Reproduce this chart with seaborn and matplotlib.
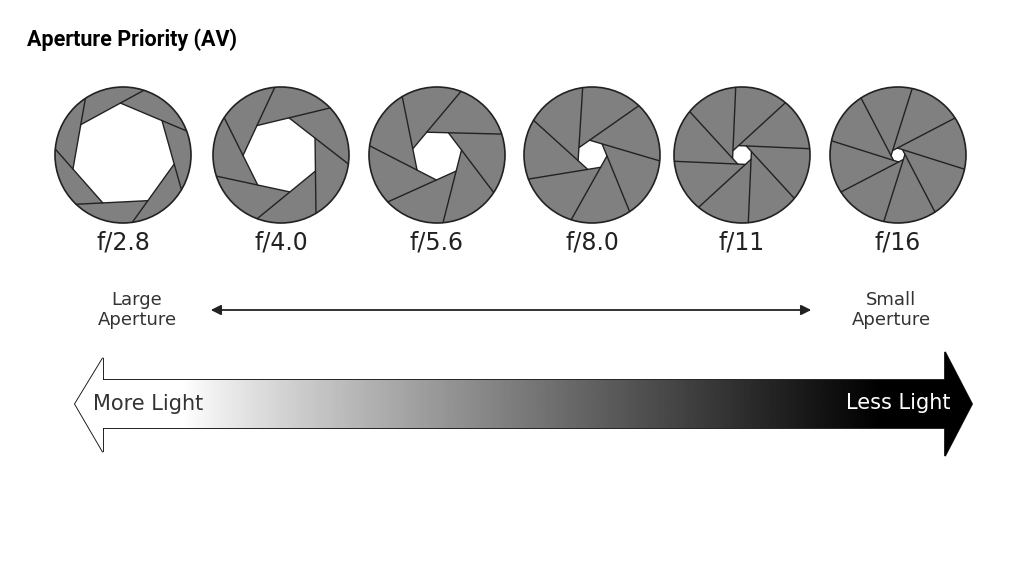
"""aperture priority illustration"""

import numpy as np
import matplotlib.pyplot as plt
import seaborn as sns
from matplotlib.patches import Circle, Polygon, FancyArrowPatch

sns.set_theme(style="white")

stops = ["f/2.8", "f/4.0", "f/5.6", "f/8.0", "f/11", "f/16"]
centers_x = [123, 281, 437, 592, 742, 898]
hole_radius = [52, 38, 25, 15, 10, 7]
blades = [7, 7, 7, 7, 8, 8]
rotation = [10, 25, 40, 55, 70, 85]

R = 68
CY = 155

fig = plt.figure(figsize=(10.24, 5.76), dpi=100)
ax = fig.add_axes([0, 0, 1, 1])
ax.set_xlim(0, 1024)
ax.set_ylim(576, 0)
ax.axis("off")

for cx, hr, n, rot, lab in zip(centers_x, hole_radius, blades, rotation, stops):
    ax.add_patch(Circle((cx, CY), R, facecolor="#808080", edgecolor="#222222", lw=1.2))
    ang = np.deg2rad(rot) + np.arange(n) * 2 * np.pi / n
    verts = np.c_[cx + hr * np.cos(ang), CY + hr * np.sin(ang)]
    ax.add_patch(Polygon(verts, closed=True, facecolor="white", edgecolor="#222222", lw=1))
    for i in range(n):
        a = verts[i]
        b = verts[(i + 1) % n]
        d = (b - a) / np.linalg.norm(b - a)
        p = b - np.array([cx, CY])
        # solve |p + t d| = R
        t = -p @ d + np.sqrt((p @ d) ** 2 - (p @ p - R * R))
        e = b + t * d
        ax.plot([b[0], e[0]], [b[1], e[1]], color="#222222", lw=1)
    ax.text(cx, 242, lab, ha="center", va="center", fontsize=17,
            family="DejaVu Sans", color="#222222")

ax.text(27, 40, "Aperture Priority (AV)", fontsize=15.5, fontweight="bold",
        family="Roboto", va="center", ha="left", color="black")

ax.text(137, 310, "Large\nAperture", ha="center", va="center", fontsize=13,
        family="DejaVu Sans", color="#333333", linespacing=1.1)
ax.text(891, 310, "Small\nAperture", ha="center", va="center", fontsize=13,
        family="DejaVu Sans", color="#333333", linespacing=1.1)
ax.add_patch(FancyArrowPatch((208, 310), (814, 310), arrowstyle="<|-|>",
                             mutation_scale=15, color="#222222", lw=1.3))

# gradient arrow
arrow = [(75, 404), (103, 358), (103, 380), (945, 380), (945, 352),
         (972, 404), (945, 456), (945, 428), (103, 428), (103, 452)]
outline = Polygon(arrow, closed=True, facecolor="none", edgecolor="#111111", lw=1.3)
ax.add_patch(outline)
xs = np.linspace(0, 1, 400)
grad = np.clip((xs - 0.12) / 0.78, 0, 1) ** 0.9
img = ax.imshow(1 - grad[None, :], cmap="gray", vmin=0, vmax=1, aspect="auto",
                extent=(75, 972, 456, 352), zorder=1)
img.set_clip_path(outline)
ax.set_xlim(0, 1024)
ax.set_ylim(576, 0)

ax.text(93, 404, "More Light", fontsize=15, family="DejaVu Sans",
        va="center", ha="left", color="#333333", zorder=3)
ax.text(950, 403, "Less Light", fontsize=15, family="DejaVu Sans",
        va="center", ha="right", color="white", zorder=3)

fig.savefig("out.png", dpi=100, facecolor="white")
